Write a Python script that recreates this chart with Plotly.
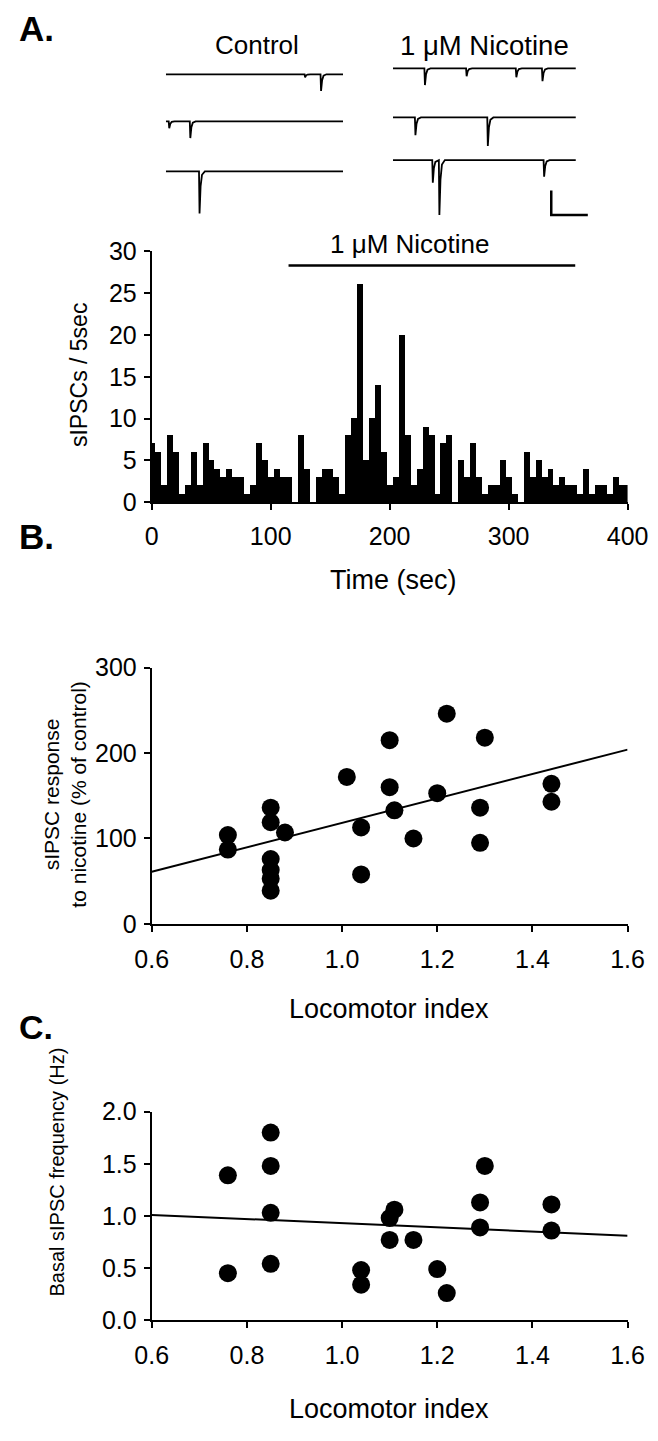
import plotly.graph_objects as go

# ---------------- DATA ----------------
# Panel A histogram: sIPSCs per 5 s bin (bin centres, s)
bin_time = list(range(0, 405, 5))
sipsc_counts = [7, 6, 2, 8, 6, 1, 2, 6, 2, 7, 5, 4, 3, 4, 3, 3, 1, 2, 7, 5,
                3, 4, 3, 3, 0, 8, 4, 0, 3, 4, 4, 3, 1, 8, 10, 26, 5, 10, 14, 6,
                2, 3, 20, 8, 2, 4, 9, 8, 1, 7, 8, 0, 5, 3, 7, 3, 1, 2, 2, 5,
                3, 1, 0, 6, 3, 5, 3, 4, 2, 3, 2, 2, 1, 4, 1, 2, 2, 1, 3, 2, 2]
nicotine_period = [115, 356]          # s, bar above histogram
hist_xticks = [0, 100, 200, 300, 400]
hist_yticks = [0, 5, 10, 15, 20, 25, 30]

# Example traces: event times (ms in a 1 s sweep) and amplitudes (pA)
control_events = [
    {"t": [786, 876], "amp": [6, 34]},
    {"t": [19, 138], "amp": [14, 34]},
    {"t": [190], "amp": [86]},
]
nicotine_events = [
    {"t": [175, 403, 675, 818], "amp": [34, 16, 18, 26]},
    {"t": [123, 519], "amp": [36, 58]},
    {"t": [218, 254, 827], "amp": [46, 112, 34]},
]
scale_bar_ms = 200
scale_bar_pA = 50

# Panel B: locomotor index vs sIPSC response (% of control)
b_x = [0.76, 0.76, 0.85, 0.85, 0.85, 0.85, 0.85, 0.85, 0.88, 1.01, 1.04, 1.04,
       1.10, 1.10, 1.11, 1.15, 1.20, 1.22, 1.29, 1.29, 1.30, 1.44, 1.44]
b_y = [104, 87, 136, 119, 76, 63, 53, 39, 107, 172, 113, 58,
       215, 160, 133, 100, 153, 246, 136, 95, 218, 164, 143]
b_fit_x = [0.6, 1.6]
b_fit_y = [61, 204]

# Panel C: locomotor index vs basal sIPSC frequency (Hz)
c_x = [0.76, 0.76, 0.85, 0.85, 0.85, 0.85, 1.04, 1.04, 1.10, 1.10,
       1.11, 1.15, 1.20, 1.22, 1.29, 1.29, 1.30, 1.44, 1.44]
c_y = [1.39, 0.45, 1.80, 1.48, 1.03, 0.54, 0.48, 0.34, 0.98, 0.77,
       1.06, 0.77, 0.49, 0.26, 1.13, 0.89, 1.48, 1.11, 0.86]
c_fit_x = [0.6, 1.6]
c_fit_y = [1.01, 0.81]

loco_ticks = [0.6, 0.8, 1.0, 1.2, 1.4, 1.6]
b_yticks = [0, 100, 200, 300]
c_yticks = [0.0, 0.5, 1.0, 1.5, 2.0]

# ---------------- LAYOUT HELPERS ----------------
W, H = 658, 1441
FONT = "Liberation Sans, Arial, sans-serif"
TICK_FS = 25


def xp(px):
    return px / W


def yp(py):
    return 1 - py / H


AX_L, AX_R = 143, 648          # pixel extent of the three lower plots

# event waveform template (style only)
kern_dt = [-3, 0, 6, 14, 30]
kern_frac = [0, 1, 0.35, 0.08, 0]
TR_TOP, TR_BOT = 40, 240       # trace area, 2 pA per px
row_offsets_ctrl = [-43, -139, -241]
row_offsets_nic = [-31, -131, -218]
CTRL_L, CTRL_R = 158, 346
NIC_L, NIC_R, NIC_EXT = 399, 593, 635


def build_trace(events, offset):
    xs, ys = [0], [offset]
    for t, a in sorted(zip(events["t"], events["amp"])):
        for dt, f in zip(kern_dt, kern_frac):
            xs.append(t + dt)
            ys.append(offset - a * f)
    xs.append(1000)
    ys.append(offset)
    return xs, ys


fig = go.Figure()

# Histogram
fig.add_trace(go.Bar(x=bin_time, y=sipsc_counts, width=5, marker=dict(color="black", line=dict(width=0)),
                     xaxis="x", yaxis="y", showlegend=False))
fig.add_trace(go.Scatter(x=nicotine_period, y=[28.3, 28.3], mode="lines", line=dict(color="black", width=2.5),
                         xaxis="x", yaxis="y", showlegend=False))

# Panel B
fig.add_trace(go.Scatter(x=b_x, y=b_y, mode="markers", marker=dict(color="black", size=18),
                         xaxis="x2", yaxis="y2", showlegend=False, cliponaxis=False))
fig.add_trace(go.Scatter(x=b_fit_x, y=b_fit_y, mode="lines", line=dict(color="black", width=2),
                         xaxis="x2", yaxis="y2", showlegend=False))

# Panel C
fig.add_trace(go.Scatter(x=c_x, y=c_y, mode="markers", marker=dict(color="black", size=18),
                         xaxis="x3", yaxis="y3", showlegend=False, cliponaxis=False))
fig.add_trace(go.Scatter(x=c_fit_x, y=c_fit_y, mode="lines", line=dict(color="black", width=2),
                         xaxis="x3", yaxis="y3", showlegend=False))

# Traces
for ev, off in zip(control_events, row_offsets_ctrl):
    xs, ys = build_trace(ev, off)
    fig.add_trace(go.Scatter(x=xs, y=ys, mode="lines", line=dict(color="black", width=1.8),
                             xaxis="x4", yaxis="y4", showlegend=False))
for ev, off in zip(nicotine_events, row_offsets_nic):
    xs, ys = build_trace(ev, off)
    fig.add_trace(go.Scatter(x=xs, y=ys, mode="lines", line=dict(color="black", width=1.8),
                             xaxis="x5", yaxis="y5", showlegend=False))
# scale bar
sb_x0, sb_y0 = 866, -330
fig.add_trace(go.Scatter(x=[sb_x0, sb_x0, sb_x0 + scale_bar_ms], y=[sb_y0 + scale_bar_pA, sb_y0, sb_y0],
                         mode="lines", line=dict(color="black", width=2.5),
                         xaxis="x5", yaxis="y5", showlegend=False))

axis_common = dict(showline=True, linecolor="black", linewidth=2, ticks="outside", ticklen=6,
                   tickwidth=2, tickcolor="black", showgrid=False, zeroline=False,
                   ticklabeloverflow="allow",
                   tickfont=dict(family=FONT, size=TICK_FS, color="black"))

hidden = dict(visible=False, showgrid=False, zeroline=False)
tr_yrange = [-(TR_BOT - TR_TOP) * 2, 0]

fig.update_layout(
    width=W, height=H, margin=dict(l=0, r=0, t=0, b=0),
    paper_bgcolor="white", plot_bgcolor="white", bargap=0,
    font=dict(family=FONT, size=TICK_FS, color="black"),
    xaxis=dict(domain=[xp(AX_L), xp(AX_R)], range=[0, 400], anchor="y", tickvals=hist_xticks,
               ticklabelstandoff=5, **axis_common),
    yaxis=dict(domain=[yp(498), yp(242)], range=[0, 30], anchor="x", tickvals=hist_yticks,
               ticklabelstandoff=2, **axis_common),
    xaxis2=dict(domain=[xp(AX_L), xp(AX_R)], range=[0.6, 1.6], anchor="y2", tickvals=loco_ticks,
                tickformat=".1f", ticklabelstandoff=6, **axis_common),
    yaxis2=dict(domain=[yp(928), yp(666.5)], range=[0, 300], anchor="x2", tickvals=b_yticks,
                ticklabelstandoff=2, **axis_common),
    xaxis3=dict(domain=[xp(AX_L), xp(AX_R)], range=[0.6, 1.6], anchor="y3", tickvals=loco_ticks,
                tickformat=".1f", ticklabelstandoff=6, **axis_common),
    yaxis3=dict(domain=[yp(1332), yp(1119.5)], range=[0, 2.0], anchor="x3", tickvals=c_yticks,
                tickformat=".1f", ticklabelstandoff=2, **axis_common),
    xaxis4=dict(domain=[xp(CTRL_L), xp(CTRL_R)], range=[0, 1000], anchor="y4", **hidden),
    yaxis4=dict(domain=[yp(TR_BOT), yp(TR_TOP)], range=tr_yrange, anchor="x4", **hidden),
    xaxis5=dict(domain=[xp(NIC_L), xp(NIC_EXT)], range=[0, 1000 * (NIC_EXT - NIC_L) / (NIC_R - NIC_L)],
                anchor="y5", **hidden),
    yaxis5=dict(domain=[yp(TR_BOT), yp(TR_TOP)], range=tr_yrange, anchor="x5", **hidden),
)

ann = [
    dict(text="<b>A.</b>", x=xp(0), y=yp(15), xanchor="left", yanchor="middle", size=35),
    dict(text="<b>B.</b>", x=xp(0), y=yp(533), xanchor="left", yanchor="middle", size=35),
    dict(text="<b>C.</b>", x=xp(0), y=yp(1033), xanchor="left", yanchor="middle", size=34),
    dict(text="Control", x=xp(255), y=yp(32), xanchor="center", yanchor="middle", size=26),
    dict(text="1 μM Nicotine", x=xp(496), y=yp(32), xanchor="center", yanchor="middle", size=27.5),
    dict(text="1 μM Nicotine", x=xp(417), y=yp(235), xanchor="center", yanchor="middle", size=26),
    dict(text="Time (sec)", x=xp(400), y=yp(577), xanchor="center", yanchor="middle", size=27),
    dict(text="Locomotor index", x=xp(395), y=yp(1015), xanchor="center", yanchor="middle", size=27),
    dict(text="Locomotor index", x=xp(395), y=yp(1423), xanchor="center", yanchor="middle", size=27),
    dict(text="sIPSCs / 5sec", x=xp(66), y=yp(368), textangle=-90, xanchor="center", yanchor="middle",
         size=23),
    dict(text="sIPSC response<br>to nicotine (% of control)", x=xp(50), y=yp(796), textangle=-90,
         xanchor="center", yanchor="middle", size=21),
    dict(text="Basal sIPSC frequency (Hz)", x=xp(43), y=yp(1181), textangle=-90, xanchor="center",
         yanchor="middle", size=20),
]
for a in ann:
    size = a.pop("size")
    a.update(xref="paper", yref="paper", showarrow=False,
             font=dict(family=FONT, color="black", size=size))
fig.update_layout(annotations=ann)

fig.write_html("out.html", config={"displayModeBar": False},
               post_script="document.body.style.margin='0';document.body.style.overflow='hidden';")
